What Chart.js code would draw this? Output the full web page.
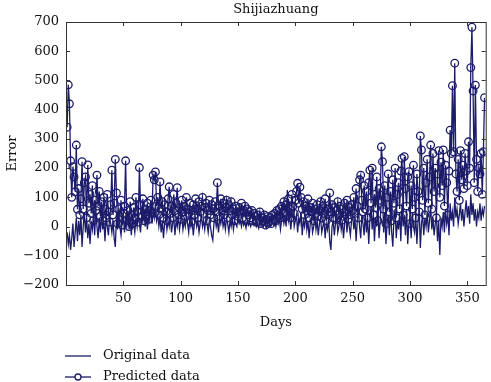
<!DOCTYPE html>
<html>
<head>
<meta charset="utf-8">
<script src="https://cdn.jsdelivr.net/npm/chart.js@4"></script>
<style>
  html, body { margin: 0; padding: 0; background: #fff; }
  #wrap { width: 491px; height: 382px; }
</style>
</head>
<body>
<div id="wrap"><canvas id="errChart" width="491" height="382"></canvas></div>
<script>
// values, one per day
const days = Array.from({ length: 365 }, (_, i) => i + 1);

const originalData = [
  -20, -60, -30, -80, -40, 10, -70, -20, 30, -50,
  20, -30, 40, -70, 0, 50, -20, 30, -40, 10,
  -60, 20, -10, 40, -30, 60, 0, -40, 30, -20,
  50, -10, 20, -50, 40, 0, -30, 30, 10, -20,
  20, -40, -70, 30, -10, 50, 0, -30, 20, 40,
  -20, 30, 0, 50, -10, 20, -30, 40, 10, -20,
  30, 0, 50, 10, -20, 40, 20, 60, 0, 30,
  -10, 40, 20, 70, 10, 50, 30, 80, 20, 40,
  0, 30, -20, 20, -40, 10, 30, -10, 20, 0,
  40, -20, 10, 30, -30, 20, 0, 40, -10, 20,
  30, -10, 20, 0, 40, 10, -20, 30, 0, 20,
  -30, 10, 30, 0, 20, -20, 10, 40, 0, 20,
  -10, 30, 10, -20, 20, 0, -30, -46, 10, 30,
  0, 20, -20, 30, 10, 40, 0, 20, -10, 30,
  10, -20, 20, 0, 30, -10, 20, 10, 0, 30,
  10, 20, 0, 25, 5, 15, -5, 20, 5, 15,
  0, 10, 20, 5, 15, 0, 10, -5, 15, 5,
  10, 0, 15, 5, -5, 10, 20, 0, 10, 15,
  5, 20, 0, 25, 10, 30, -10, 20, 40, 10,
  30, 0, 125, 20, 40, -10, 30, 50, 0, 20,
  40, -20, 30, 10, 50, -30, 20, 0, 40, -10,
  20, -40, 10, 30, -20, 0, 40, -10, 20, -30,
  10, 30, -20, 0, 20, -40, 10, -10, 30, -50,
  -80, 0, 20, -30, 10, 40, -20, 0, 30, -10,
  20, -40, 10, 50, -20, 30, 0, -30, 20, 40,
  -10, 30, -50, 20, 60, 0, -40, 40, 10, -30,
  50, -20, 30, -60, 20, 70, -10, 40, -50, 30,
  0, 60, -40, 20, 90, 120, -20, 50, -60, 10,
  40, -30, 70, -20, -69, 30, 60, -40, 20, -10,
  50, -50, 80, 0, 40, -30, 60, -60, 10, 30,
  -40, 50, 0, -20, 40, -60, 20, 60, -73, 10,
  40, -30, 30, 0, 50, -20, 20, 70, -10, 30,
  -30, 10, 40, -50, 20, -97, 30, 0, 50, -20,
  60, 10, 40, -30, 80, 20, 50, 0, 100, 30,
  60, 10, 40, 80, 20, 60, 0, 50, 90, 30,
  70, 10, 110, 40, 80, 20, 60, 0, 50, 30,
  80, 20, 60, 40, 70
];

const predictedData = [
  340, 485, 420, 225, 100, 205, 170, 119, 279, 59,
  130, 40, 95, 222, 60, 150, 170, 30, 211, 80,
  110, 45, 140, 20, 90, 55, 176, 70, 120, 35,
  85, 20, 100, 60, 30, 110, 50, 15, 75, 193,
  40, 80, 230, 115, 10, 60, 35, 90, 5, 45,
  70, 225, 20, 55, 0, 85, 40, 10, 65, 30,
  100, 50, 15, 202, 75, 35, 95, 20, 60, 40,
  80, 25, 55, 90, 45, 176, 160, 187, 70, 100,
  40, 153, 60, 85, 30, 75, 50, 20, 95, 136,
  45, 70, 30, 110, 55, 80, 133, 40, 65, 25,
  90, 50, 70, 35, 100, 60, 45, 80, 15, 55,
  75, 40, 95, 60, 30, 85, 50, 70, 100, 45,
  65, 80, 20, 55, 90, 40, 75, 60, 30, 85,
  50, 150, 70, 35, 95, 55, 80, 40, 65, 90,
  30, 75, 55, 85, 40, 60, 20, 70, 50, 35,
  65, 45, 80, 30, 55, 70, 25, 60, 40, 50,
  30, 55, 20, 45, 35, 15, 40, 25, 50, 10,
  30, 20, 40, 5, 25, 35, 15, 30, 10, 40,
  25, 45, 20, 55, 35, 60, 30, 70, 45, 85,
  50, 75, 40, 95, 60, 30, 110, 70, 45, 90,
  120, 148, 80, 135, 100, 60, 85, 40, 70, 55,
  95, 30, 65, 50, 80, 20, 60, 45, 75, 35,
  55, 85, 30, 70, 45, 95, 20, 60, 40, 115,
  50, 75, 30, 65, 25, 55, 85, 40, 70, 20,
  60, 35, 80, 50, 90, 25, 65, 40, 75, 55,
  100, 45, 130, 70, 30, 160, 176, 90, 50, 140,
  60, 120, 30, 150, 193, 80, 200, 40, 110, 65,
  170, 20, 130, 90, 273, 222, 60, 140, 10, 100,
  180, 50, 120, 20, 160, 80, 200, 30, 110, 150,
  60, 190, 233, 40, 239, 130, 70, 170, 188, 10,
  140, 60, 210, 100, 30, 180, 120, 50, 310, 262,
  90, 200, 40, 150, 230, 80, 170, 279, 60, 250,
  120, 200, 30, 180, 260, 100, 220, 140, 262, 70,
  210, 150, 40, 190, 330, 250, 482, 256, 559, 180,
  120, 230, 90, 260, 160, 210, 130, 250, 190, 140,
  290, 200, 544, 682, 464, 150, 484, 230, 120, 200,
  180, 250, 110, 256, 441
];

const xTicks = [50, 100, 150, 200, 250, 300, 350];
const yTicks = [-200, -100, 0, 100, 200, 300, 400, 500, 600, 700];
const seriesNames = ["Original data", "Predicted data"];

const navy = "#1c1c6b";
const textColor = "#111";
const serif = "'DejaVu Serif', 'Liberation Serif', serif";

// рамка, засечки внутрь, заголовок, подписи осей и легенда
const framePlugin = {
  id: "frame",
  afterDraw(chart) {
    const { ctx, chartArea: a, scales } = chart;
    const tl = 4;
    ctx.save();
    ctx.strokeStyle = "#333";
    ctx.lineWidth = 1;
    ctx.strokeRect(a.left + 0.5, a.top + 0.5, a.right - a.left, a.bottom - a.top);
    ctx.beginPath();
    xTicks.forEach((v) => {
      const x = Math.round(scales.x.getPixelForValue(v)) + 0.5;
      ctx.moveTo(x, a.bottom); ctx.lineTo(x, a.bottom - tl);
      ctx.moveTo(x, a.top); ctx.lineTo(x, a.top + tl);
    });
    yTicks.forEach((v) => {
      const y = Math.round(scales.y.getPixelForValue(v)) + 0.5;
      ctx.moveTo(a.left, y); ctx.lineTo(a.left + tl, y);
      ctx.moveTo(a.right, y); ctx.lineTo(a.right - tl, y);
    });
    ctx.stroke();

    ctx.fillStyle = textColor;
    ctx.font = "13px " + serif;
    ctx.textAlign = "center";
    ctx.textBaseline = "middle";
    ctx.fillText("Shijiazhuang", (a.left + a.right) / 2, 10);
    ctx.fillText("Days", (a.left + a.right) / 2, 323);
    ctx.save();
    ctx.translate(13, (a.top + a.bottom) / 2);
    ctx.rotate(-Math.PI / 2);
    ctx.fillText("Error", 0, 0);
    ctx.restore();

    // легенда
    ctx.strokeStyle = navy;
    ctx.lineWidth = 1.3;
    ctx.textAlign = "left";
    const rows = [356, 377];
    rows.forEach((y, i) => {
      ctx.beginPath();
      ctx.moveTo(65, y); ctx.lineTo(91, y);
      ctx.stroke();
      if (i === 1) {
        ctx.beginPath();
        ctx.arc(78, y, 3, 0, Math.PI * 2);
        ctx.fillStyle = "#fff";
        ctx.fill();
        ctx.stroke();
      }
      ctx.fillStyle = textColor;
      ctx.fillText(seriesNames[i], 103, y);
    });
    ctx.restore();
  },
};

const config = {
  type: "line",
  data: {
    datasets: [
      {
        label: seriesNames[0],
        data: originalData.map((v, i) => ({ x: days[i], y: v })),
        borderColor: navy,
        borderWidth: 1.3,
        pointRadius: 0,
        tension: 0,
      },
      {
        label: seriesNames[1],
        data: predictedData.map((v, i) => ({ x: days[i], y: v })),
        borderColor: navy,
        borderWidth: 1.3,
        pointRadius: 3.8,
        pointBorderWidth: 1.3,
        pointBackgroundColor: "rgba(255,255,255,0)",
        pointBorderColor: navy,
        tension: 0,
      },
    ],
  },
  options: {
    responsive: false,
    animation: false,
    parsing: false,
    layout: { padding: { top: 22, right: 5, left: 0, bottom: 0 } },
    plugins: {
      legend: { display: false },
      tooltip: { enabled: false },
      title: { display: false },
    },
    scales: {
      x: {
        type: "linear",
        min: 0,
        max: 366,
        afterBuildTicks: (s) => { s.ticks = xTicks.map((v) => ({ value: v })); },
        afterFit: (s) => { s.height = 97; },
        grid: { display: false, drawTicks: false },
        border: { display: false },
        ticks: { color: textColor, font: { family: serif, size: 13 }, padding: 6, maxRotation: 0 },
      },
      y: {
        min: -200,
        max: 700,
        afterBuildTicks: (s) => { s.ticks = yTicks.map((v) => ({ value: v })); },
        afterFit: (s) => { s.width = 66; },
        grid: { display: false, drawTicks: false },
        border: { display: false },
        ticks: {
          color: textColor,
          font: { family: serif, size: 13 },
          padding: 7,
          callback: (v) => String(v).replace("-", "\u2212"),
        },
      },
    },
  },
  plugins: [framePlugin],
};

const errChart = new Chart(document.getElementById("errChart"), config);
</script>
</body>
</html>
